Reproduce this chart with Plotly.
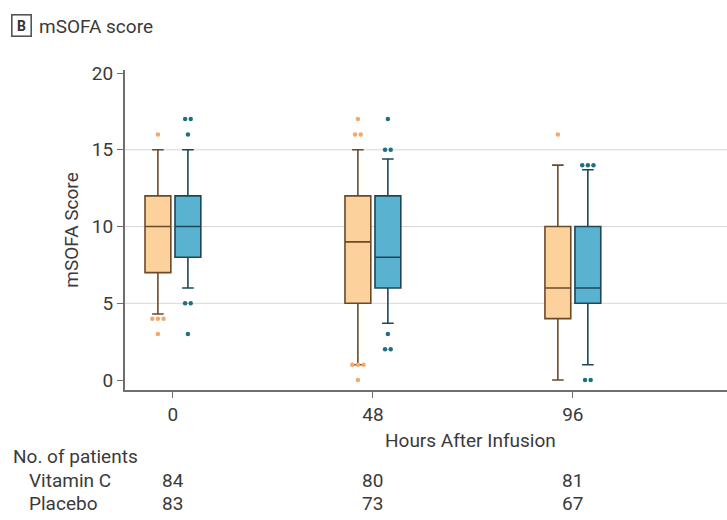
import plotly.graph_objects as go
from collections import Counter

# ---- data ----
hours = [0, 48, 96]
series_names = ["Vitamin C", "Placebo"]

vitc_q1 = [7, 5, 4]
vitc_median = [10, 9, 6]
vitc_q3 = [12, 12, 10]
vitc_lower = [4.3, 1, 0]
vitc_upper = [15, 15, 14]
vitc_outlier_hours = [0, 0, 0, 0, 0, 48, 48, 48, 48, 48, 48, 48, 96]
vitc_outlier_values = [16, 4, 4, 4, 3, 17, 16, 16, 1, 1, 1, 0, 16]

plac_q1 = [8, 6, 5]
plac_median = [10, 8, 6]
plac_q3 = [12, 12, 10]
plac_lower = [6, 3.7, 1]
plac_upper = [15, 14.4, 13.7]
plac_outlier_hours = [0, 0, 0, 0, 0, 0, 48, 48, 48, 48, 48, 48, 96, 96, 96, 96, 96]
plac_outlier_values = [17, 17, 16, 5, 5, 3, 17, 15, 15, 3, 2, 2, 14, 14, 14, 0, 0]

n_vitc = [84, 80, 81]
n_plac = [83, 73, 67]

y_ticks = [0, 5, 10, 15, 20]
grid_values = [5, 10, 15]

# ---- styles ----
FONT = "Roboto, Noto Sans, sans-serif"
FS = 19
TXT = "#3a3a3a"
OFFSET = 3.6       # hours shift of each box from the tick
BOX_W = 6.2        # box width in hours
JIT = 1.35         # horizontal spacing of tied outliers (hours)

styles = {
    "Vitamin C": dict(fill="#FDD19C", line="#6b4a2a", dot="#F5A868", off=-OFFSET),
    "Placebo": dict(fill="#58B2D0", line="#1d4756", dot="#1f6f80", off=OFFSET),
}


def jitter(hs, vs, base):
    cnt = Counter(zip(hs, vs))
    seen = Counter()
    xs = []
    for h, v in zip(hs, vs):
        n = cnt[(h, v)]
        i = seen[(h, v)]
        seen[(h, v)] += 1
        xs.append(h + base + (i - (n - 1) / 2) * JIT)
    return xs


fig = go.Figure()

data = {
    "Vitamin C": (vitc_q1, vitc_median, vitc_q3, vitc_lower, vitc_upper,
                  vitc_outlier_hours, vitc_outlier_values),
    "Placebo": (plac_q1, plac_median, plac_q3, plac_lower, plac_upper,
                plac_outlier_hours, plac_outlier_values),
}

for name in series_names:
    q1, med, q3, lo, up, oh, ov = data[name]
    st = styles[name]
    fig.add_trace(go.Box(
        name=name,
        x=[h + st["off"] for h in hours],
        q1=q1, median=med, q3=q3, lowerfence=lo, upperfence=up,
        width=BOX_W,
        whiskerwidth=0.45,
        fillcolor=st["fill"],
        line=dict(color=st["line"], width=1.6),
        boxpoints=False,
        showlegend=False,
        hoverinfo="skip",
    ))
    fig.add_trace(go.Scatter(
        x=jitter(oh, ov, st["off"]), y=ov,
        mode="markers",
        marker=dict(color=st["dot"], size=4.5),
        showlegend=False,
        hoverinfo="skip",
    ))

for g in grid_values:
    fig.add_shape(type="line", xref="paper", x0=0, x1=1, yref="y", y0=g, y1=g,
                  line=dict(color="#d6d6d6", width=1), layer="below")

W, H = 727, 520
ML, MR, MT, MB = 125, 0, 70, 130


def py_to_paper(py):
    return 1 - (py - MT) / (H - MT - MB)


def px_to_paper(px):
    return (px - ML) / (W - ML - MR)


ROW_VITC, ROW_PLAC = 480, 503

# patient counts under each time point
for i, h in enumerate(hours):
    for row_y, vals in ((ROW_VITC, n_vitc), (ROW_PLAC, n_plac)):
        fig.add_annotation(x=h, y=py_to_paper(row_y), xref="x", yref="paper",
                           text=str(vals[i]), showarrow=False,
                           xanchor="center", yanchor="middle",
                           font=dict(family=FONT, size=FS, color=TXT))

texts = [
    ("No. of patients", 11, 456, "left", FS),
    ("Vitamin C", 27, ROW_VITC, "left", FS),
    ("Placebo", 27, ROW_PLAC, "left", FS),
    ("Hours After Infusion", 470, 440, "center", FS),
    ("mSOFA score", 37, 26, "left", FS),
]
for t, px, py, anc, fs in texts:
    fig.add_annotation(x=px_to_paper(px), y=py_to_paper(py), xref="paper", yref="paper",
                       text=t, showarrow=False, xanchor=anc, yanchor="middle",
                       font=dict(family=FONT, size=fs, color=TXT))

fig.add_annotation(x=px_to_paper(21.5), y=py_to_paper(25.5), xref="paper", yref="paper",
                   text="<b>B</b>", showarrow=False, xanchor="center", yanchor="middle",
                   bordercolor="#555", borderwidth=1.6, borderpad=1,
                   width=16, height=18,
                   font=dict(family=FONT, size=14, color="#333"))

fig.update_layout(
    width=W, height=H,
    margin=dict(l=ML, r=MR, t=MT, b=MB),
    plot_bgcolor="white", paper_bgcolor="white",
    font=dict(family=FONT, size=FS, color=TXT),
    xaxis=dict(range=[-11.5, 133], tickvals=hours, ticktext=[str(h) for h in hours],
               showgrid=False, zeroline=False, showline=True, linecolor="#6e6e6e",
               linewidth=2, ticks="outside", ticklen=6, tickcolor="#6e6e6e",
               tickfont=dict(size=FS, color=TXT)),
    yaxis=dict(range=[-0.65, 20.2], tickvals=y_ticks, showgrid=False, zeroline=False,
               showline=True, linecolor="#6e6e6e", linewidth=2, ticks="outside",
               ticklen=6, tickcolor="#6e6e6e", tickfont=dict(size=FS, color=TXT),
               title=dict(text="mSOFA Score", font=dict(size=FS, color=TXT), standoff=8)),
)

fig.write_html("out.html")
